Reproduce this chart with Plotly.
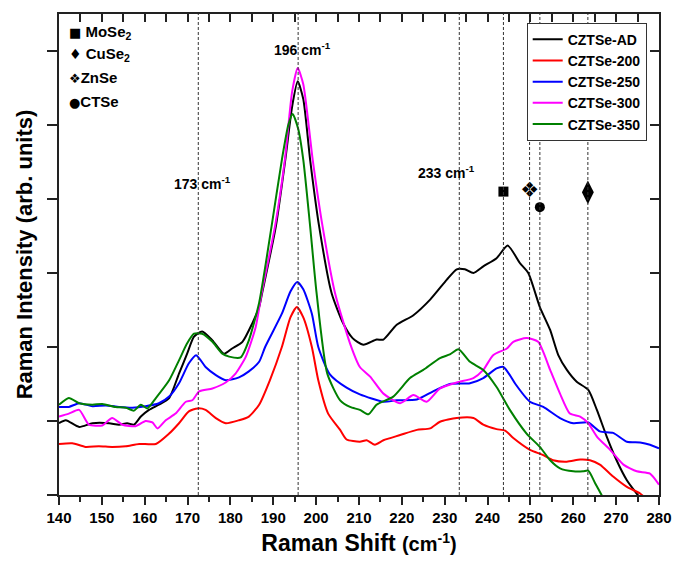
import plotly.graph_objects as go

# ---------------- data ----------------
ad_x = [140, 141.6, 144.7, 147.8, 151.7, 154, 155.9, 157.5, 159.1, 161, 163.3, 165.7, 168, 169.9, 171.5,
        173.4, 175.8, 178.5, 180.4, 182.8, 185.1, 186.7, 187.4, 190.6, 192.8, 194.4, 195.7, 197, 198.6,
        200.7, 203.6, 206.3, 208.5, 211, 214.1, 215.7, 218.8, 222.7, 226.6, 230.5, 232.8, 234.7, 236.7,
        239, 242.1, 244.7, 247.6, 249.5, 252.2, 254.6, 256.5, 258.5, 260.8, 263.5, 265.5, 267.8, 270.1,
        272.5, 274.8, 276.5]
ad_y = [0.97, 1.01, 0.92, 0.97, 0.97, 0.95, 0.97, 0.95, 1.06, 1.15, 1.22, 1.31, 1.64, 1.91, 2.14,
        2.21, 2.09, 1.91, 1.98, 2.07, 2.32, 2.54, 2.73, 3.63, 4.53, 5.25, 5.59, 5.35, 4.53,
        3.63, 2.73, 2.32, 2.12, 2.03, 2.10, 2.10, 2.30, 2.43, 2.64, 2.91, 3.05, 3.05, 3.00,
        3.09, 3.20, 3.37, 3.13, 3.00, 2.54, 2.23, 1.89, 1.69, 1.53, 1.42, 1.15, 0.79, 0.47,
        0.20, 0.02, -0.10]

s200_x = [140, 143.1, 146.2, 149.3, 152.4, 155.6, 158.7, 162.6, 165.7, 168, 170.3, 172.3, 174.2, 176.6,
          178.9, 182, 184.3, 186.7, 189.2, 192, 194, 195.5, 197, 199, 200.5, 202.8, 205.6, 207.1,
          210.2, 211.8, 213.7, 215.7, 219.6, 223.5, 226.6, 228.9, 232.8, 236.7, 239, 242.1, 244.1,
          246, 249.9, 253, 255.3, 258.5, 261.6, 263.9, 266.2, 269.3, 272.5, 275.6, 277.5]
s200_y = [0.69, 0.70, 0.65, 0.66, 0.65, 0.66, 0.69, 0.69, 0.83, 0.97, 1.13, 1.17, 1.15, 1.04,
          0.97, 1.01, 1.06, 1.22, 1.55, 2.00, 2.40, 2.54, 2.40, 2.00, 1.55, 1.10, 0.88, 0.75,
          0.72, 0.74, 0.68, 0.74, 0.81, 0.88, 0.90, 0.99, 1.04, 1.04, 0.95, 0.89, 0.87,
          0.77, 0.61, 0.54, 0.47, 0.45, 0.48, 0.47, 0.41, 0.25, 0.11, 0.02, -0.08]

s250_x = [140, 142.3, 144.7, 147.8, 150.9, 154, 157.1, 160.2, 163.3, 165.7, 168, 170.3, 172, 174.2,
          176.6, 178.9, 182, 184.3, 186.7, 188.1, 192, 194, 195.6, 197, 199, 200.5, 203.2, 207.1,
          210.2, 215.7, 218.8, 223.5, 227.3, 231.2, 235.9, 239, 242.1, 243.7, 245.2, 246.5, 249.9,
          253, 256.9, 260, 263.5, 266.2, 269.3, 272.5, 275.6, 277.9, 280]
s250_y = [1.19, 1.19, 1.24, 1.20, 1.21, 1.19, 1.18, 1.20, 1.24, 1.33, 1.51, 1.78, 1.89, 1.73,
          1.62, 1.55, 1.59, 1.67, 1.80, 2.00, 2.45, 2.75, 2.88, 2.78, 2.45, 2.00, 1.63, 1.45,
          1.36, 1.26, 1.28, 1.29, 1.40, 1.50, 1.51, 1.58, 1.71, 1.73, 1.62, 1.50, 1.26,
          1.19, 1.04, 0.97, 0.98, 0.86, 0.84, 0.72, 0.71, 0.68, 0.63]

s300_x = [140, 142.3, 144.7, 147, 150.1, 152.4, 154.8, 157.9, 160.2, 161.8, 163, 164.9, 167.2, 169.6,
          171.1, 172.7, 175.8, 178.9, 181.2, 183.6, 185.9, 187.3, 190.4, 192.7, 194.4, 195.7, 197,
          199.2, 201.5, 204.4, 207.9, 210.2, 212.6, 215.7, 219.6, 222.7, 225.8, 228.9, 232.8, 236.7,
          239, 241.3, 244.5, 246, 249.1, 251.8, 254.6, 256.9, 259.2, 261.6, 263.5, 265.5, 268.6,
          271.7, 274.8, 277.9, 280]
s300_y = [1.06, 1.10, 1.15, 0.95, 0.94, 1.04, 0.95, 0.93, 1.00, 0.98, 0.90, 1.01, 1.10, 1.26,
          1.28, 1.40, 1.44, 1.52, 1.64, 1.87, 2.27, 2.73, 3.63, 4.53, 5.45, 5.77, 5.55,
          4.53, 3.63, 2.73, 2.05, 1.73, 1.60, 1.37, 1.24, 1.35, 1.26, 1.44, 1.52, 1.58,
          1.69, 1.89, 1.98, 2.07, 2.12, 2.07, 1.69, 1.37, 1.10, 1.06, 0.97, 0.79, 0.61,
          0.41, 0.32, 0.29, 0.14]

s350_x = [140, 142.3, 144.7, 147.8, 150.1, 153.2, 155.6, 157.5, 159.1, 160.6, 162.6, 165.7, 168, 169.9,
          171.5, 173.4, 175.8, 178.1, 179.7, 182.4, 184.3, 186.7, 189.6, 192, 193.5, 194.5, 195.8,
          197, 198.6, 200.1, 202.6, 205.6, 207.9, 210.2, 212.2, 214.1, 218, 221.9, 225, 228.9, 231.2,
          233.2, 235.9, 239, 242.1, 245.2, 249.1, 252.2, 254.6, 256.9, 260, 262.3, 263.5, 265.1,
          266.6, 268]
s350_y = [1.22, 1.31, 1.24, 1.22, 1.23, 1.19, 1.18, 1.14, 1.22, 1.17, 1.31, 1.55, 1.82, 2.05,
          2.18, 2.18, 2.07, 1.91, 1.87, 1.86, 2.09, 2.60, 3.63, 4.53, 5.00, 5.15, 4.95,
          4.53, 3.63, 2.73, 1.64, 1.28, 1.19, 1.15, 1.09, 1.22, 1.33, 1.58, 1.69, 1.85, 1.90,
          1.97, 1.80, 1.69, 1.46, 1.15, 0.83, 0.65, 0.47, 0.36, 0.32, 0.32, 0.33, 0.16,
          0.00, -0.15]

series_names = ["CZTSe-AD", "CZTSe-200", "CZTSe-250", "CZTSe-300", "CZTSe-350"]
series_x = [ad_x, s200_x, s250_x, s300_x, s350_x]
series_y = [ad_y, s200_y, s250_y, s300_y, s350_y]
series_colors = ["#000000", "#ff0000", "#0000ff", "#ff00ff", "#008000"]

# reference (dashed) lines, cm^-1
ref_lines = [172.5, 195.8, 233.4, 243.7, 249.8, 252.2, 263.4]

# peak labels
peak_labels = ["173 cm<sup>-1</sup>", "196 cm<sup>-1</sup>", "233 cm<sup>-1</sup>"]
peak_label_x = [173.4, 196.9, 230.5]
peak_label_y = [4.22, 6.03, 4.36]

# secondary phase markers
phase_names = ["MoSe2", "ZnSe", "CTSe", "CuSe2"]
phase_x = [243.7, 249.8, 252.2, 263.4]
phase_y = [4.10, 4.10, 3.89, 4.09]

# left phase key
ZN_GLYPH = "\u2756\ufe0e"
key_symbols = ["\u25a0", "\u2666", ZN_GLYPH, "\u25cf"]
key_texts = [" MoSe<sub>2</sub>", " CuSe<sub>2</sub>", "ZnSe", "CTSe"]

x_ticks = list(range(140, 281, 10))

FONT = "Liberation Sans, Arial, sans-serif"
AXC = "#222222"

fig = go.Figure()

for name, xs, ys, col in zip(series_names, series_x, series_y, series_colors):
    fig.add_trace(go.Scatter(x=xs, y=ys, name=name, mode="lines",
                             line=dict(color=col, width=2, shape="spline", smoothing=0.6)))

# phase markers (on the overlay axes so that the top/right frame axes exist)
fig.add_trace(go.Scatter(x=[phase_x[0]], y=[phase_y[0]], mode="markers", showlegend=False,
                         marker=dict(symbol="square", size=10, color="black"),
                         xaxis="x2", yaxis="y2"))
fig.add_trace(go.Scatter(x=[phase_x[2]], y=[phase_y[2]], mode="markers", showlegend=False,
                         marker=dict(symbol="circle", size=10, color="black"),
                         xaxis="x2", yaxis="y2"))
fig.add_trace(go.Scatter(x=[phase_x[3]], y=[phase_y[3]], mode="markers", showlegend=False,
                         marker=dict(symbol="diamond-tall", size=17, color="black"),
                         xaxis="x2", yaxis="y2"))
fig.add_trace(go.Scatter(x=[phase_x[1]], y=[phase_y[1]], mode="text", showlegend=False,
                         text=[ZN_GLYPH], textposition="middle center",
                         textfont=dict(size=21, color="black", family="DejaVu Sans", weight="normal"),
                         xaxis="x2", yaxis="y2"))

for xv in ref_lines:
    fig.add_shape(type="line", x0=xv, x1=xv, y0=0, y1=1, xref="x", yref="paper",
                  line=dict(color="#333333", width=1, dash="3px,2px"), layer="above")

for t, xv, yv in zip(peak_labels, peak_label_x, peak_label_y):
    fig.add_annotation(x=xv, y=yv, text=t, showarrow=False, xanchor="center", yanchor="middle",
                       font=dict(family=FONT, size=14, color="black", weight="bold"))

key_y = [0.9605, 0.9148, 0.869, 0.819]
key_sizes = [13, 14, 13, 13]
for sym, t, yv, ss in zip(key_symbols, key_texts, key_y, key_sizes):
    fig.add_annotation(x=0.013, y=yv, xref="paper", yref="paper",
                       text=f"<span style='font-size:{ss}px;font-family:DejaVu Sans;font-weight:normal'>{sym}</span>{t}",
                       showarrow=False, xanchor="left", yanchor="middle",
                       font=dict(family=FONT, size=15, color="black", weight="bold"))

yr = [0, 6.5]
xr = [140, 280]

fig.update_layout(
    width=673, height=561,
    margin=dict(l=59, r=14, t=14, b=66, autoexpand=False),
    paper_bgcolor="white", plot_bgcolor="white",
    font=dict(family=FONT, color="black"),
    showlegend=True,
    legend=dict(x=0.7795, y=0.982, xanchor="left", yanchor="top",
                bgcolor="white", bordercolor="#333333", borderwidth=1,
                font=dict(family=FONT, size=14, color="black", weight="bold"),
                itemwidth=30, tracegroupgap=0),
    xaxis=dict(range=xr, tickvals=x_ticks, ticks="outside", ticklen=8, tickwidth=2,
               tickcolor=AXC, showline=True, linewidth=2, linecolor=AXC, showgrid=False,
               zeroline=False, automargin=False,
               tickfont=dict(family=FONT, size=15, color="black", weight="bold"),
               minor=dict(dtick=5, ticks="outside", ticklen=5, tickwidth=2, tickcolor=AXC),
               title=dict(text="Raman Shift <span style='font-size:20px'>(cm<sup>-1</sup>)</span>",
                          font=dict(family=FONT, size=23, color="black", weight="bold"),
                          standoff=10)),
    yaxis=dict(range=yr, dtick=1, tick0=0, ticks="outside", ticklen=10, tickwidth=2,
               tickcolor=AXC, showline=True, linewidth=2, linecolor=AXC, showgrid=False,
               zeroline=False, showticklabels=False, automargin=False,
               title=dict(text="Raman Intensity (arb. units)",
                          font=dict(family=FONT, size=22, color="black", weight="bold"),
                          standoff=8)),
    xaxis2=dict(range=xr, overlaying="x", side="top", anchor="y2", dtick=5, tick0=140,
                ticks="inside", ticklen=8, tickwidth=2, tickcolor=AXC, showline=True,
                linewidth=2, linecolor=AXC, showgrid=False, zeroline=False,
                showticklabels=False, automargin=False),
    yaxis2=dict(range=yr, overlaying="y", side="right", anchor="x2", dtick=1, tick0=0,
                ticks="inside", ticklen=9, tickwidth=2, tickcolor=AXC, showline=True,
                linewidth=2, linecolor=AXC, showgrid=False, zeroline=False,
                showticklabels=False, automargin=False),
)

fig.write_html("out.html")
